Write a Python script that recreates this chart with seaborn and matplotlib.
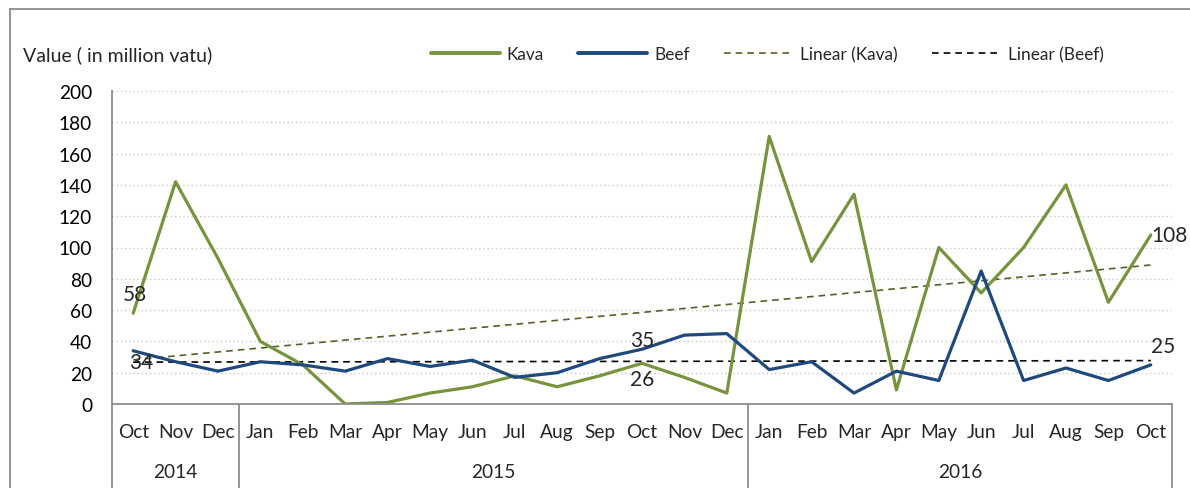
import numpy as np
import pandas as pd
import matplotlib
matplotlib.use("Agg")
import matplotlib.pyplot as plt
import seaborn as sns
from matplotlib.lines import Line2D
from matplotlib.transforms import blended_transform_factory

months = ["Oct", "Nov", "Dec",
          "Jan", "Feb", "Mar", "Apr", "May", "Jun", "Jul", "Aug", "Sep", "Oct", "Nov", "Dec",
          "Jan", "Feb", "Mar", "Apr", "May", "Jun", "Jul", "Aug", "Sep", "Oct"]
years = ["2014", "2015", "2016"]
year_counts = [3, 12, 10]
kava = [58, 142, 93, 40, 25, 0, 1, 7, 11, 18, 11, 18, 26, 17, 7,
        171, 91, 134, 9, 100, 71, 100, 140, 65, 108]
beef = [34, 27, 21, 27, 25, 21, 29, 24, 28, 17, 20, 29, 35, 44, 45,
        22, 27, 7, 21, 15, 85, 15, 23, 15, 25]
y_ticks = [0, 20, 40, 60, 80, 100, 120, 140, 160, 180, 200]

KAVA_C = "#77933C"
BEEF_C = "#1F497D"
KAVA_TREND = "#4F6228"
FONT = "Lato"
TICK_FS = 13.8
LABEL_FS = 15

sns.set_theme(style="white")
plt.rcParams["font.family"] = [FONT, "DejaVu Sans"]

W, H = 1190, 489
fig = plt.figure(figsize=(W / 100, H / 100), dpi=100)
ax_left, ax_right, ax_bottom, ax_top = 112, 1172, 405, 92
ax = fig.add_axes([ax_left / W, 1 - ax_bottom / H, (ax_right - ax_left) / W, (ax_bottom - ax_top) / H])

idx = np.arange(len(months))
df = pd.DataFrame({"i": idx, "kava": kava, "beef": beef})

sns.regplot(data=df, x="i", y="kava", scatter=False, ci=None, ax=ax,
            line_kws=dict(color=KAVA_TREND, lw=1.2, ls=(0, (4, 3))))
sns.regplot(data=df, x="i", y="beef", scatter=False, ci=None, ax=ax,
            line_kws=dict(color="black", lw=1.2, ls=(0, (4, 3))))
sns.lineplot(data=df, x="i", y="kava", ax=ax, color=KAVA_C, lw=2.3)
sns.lineplot(data=df, x="i", y="beef", ax=ax, color=BEEF_C, lw=2.3)

ax.set_xlim(-0.5, len(months) - 0.5)
ax.set_ylim(0, 200)
ax.set_yticks(y_ticks)
ax.set_yticklabels([str(t) for t in y_ticks], fontsize=TICK_FS, color="black")
ax.tick_params(axis="y", length=0, pad=14.4)
ax.set_xticks([])
ax.set_xlabel("")
ax.set_ylabel("")
for t in y_ticks[1:]:
    ax.axhline(t, color="#c8c8c8", lw=1, ls=(0, (1, 2)), zorder=0)
for s in ["top", "right"]:
    ax.spines[s].set_visible(False)
ax.spines["left"].set_color("#8c8c8c")
ax.spines["left"].set_linewidth(1.3)
ax.spines["bottom"].set_color("#8c8c8c")
ax.spines["bottom"].set_linewidth(1.3)

# category labels (two-level axis)
tr = blended_transform_factory(ax.transData, ax.transAxes)
h_ax = ax_bottom - ax_top
def ypx(p):
    return (ax_bottom - p) / h_ax
for i, m in enumerate(months):
    ax.text(i, ypx(433), m, transform=tr, ha="center", va="center", fontsize=TICK_FS, clip_on=False)
start = 0
bounds = [-0.5]
for y, c in zip(years, year_counts):
    center = start + (c - 1) / 2
    ax.text(center, ypx(473), y, transform=tr, ha="center", va="center", fontsize=TICK_FS, clip_on=False)
    start += c
    bounds.append(start - 0.5)
for b in bounds:
    ax.add_line(Line2D([b, b], [0, ypx(495)], transform=tr, color="#8c8c8c", lw=1.3, clip_on=False))

# data labels
ax.text(0.03, 70, "58", ha="center", va="center", fontsize=LABEL_FS)
ax.text(0.2, 27, "34", ha="center", va="center", fontsize=LABEL_FS)
ax.text(12, 41, "35", ha="center", va="center", fontsize=LABEL_FS)
ax.text(12, 16, "26", ha="center", va="center", fontsize=LABEL_FS)
ax.text(24.0, 108, "108", ha="left", va="center", fontsize=LABEL_FS)
ax.text(24.0, 37, "25", ha="left", va="center", fontsize=LABEL_FS)

# y-axis title
fig.text(23 / W, 1 - 55 / H, "Value ( in million vatu)", ha="left", va="center", fontsize=14)

# legend
handles = [Line2D([], [], color=KAVA_C, lw=2.8),
           Line2D([], [], color=BEEF_C, lw=2.8),
           Line2D([], [], color=KAVA_TREND, lw=1.2, ls=(0, (4, 3))),
           Line2D([], [], color="black", lw=1.2, ls=(0, (4, 3)))]
labels = ["Kava", "Beef", "Linear (Kava)", "Linear (Beef)"]
fig.legend(handles, labels, loc="center left", bbox_to_anchor=(431 / W, 1 - 55 / H), ncol=4,
           frameon=False, fontsize=12.4, handlelength=4.0, handletextpad=0.4, columnspacing=2.0,
           borderaxespad=0, borderpad=0)

# outer frame
fig.add_artist(Line2D([10 / W, 10 / W], [0, 1 - 10 / H], transform=fig.transFigure, color="#8c8c8c", lw=1.3))
fig.add_artist(Line2D([10 / W, 1], [1 - 10 / H, 1 - 10 / H], transform=fig.transFigure, color="#8c8c8c", lw=1.3))

fig.savefig("out.png", dpi=100)
